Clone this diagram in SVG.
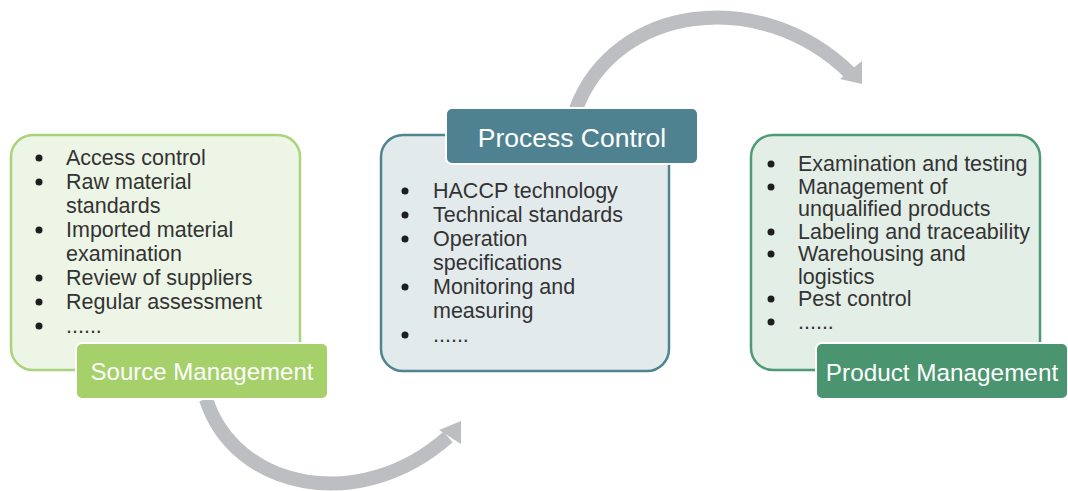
<svg xmlns="http://www.w3.org/2000/svg" width="1068" height="491" viewBox="0 0 1068 491">
<style>
.item{font-family:"Liberation Sans",Arial,sans-serif;font-size:21.5px;fill:#333333}
.lbl{font-family:"Liberation Sans",Arial,sans-serif;font-size:24px;fill:#ffffff;text-anchor:middle}
.dot{fill:#1e1e1e}
.arc{fill:none;stroke:#bdbec1;stroke-width:14}
.head{fill:#bdbec1}
</style>
<rect width="1068" height="491" fill="#ffffff"/>
<g id="connectors">
<path class="arc" d="M 206 399 C 235 490, 360 515, 448 437"/>
<polygon class="head" points="439,430 461,421 461,444"/>
<path class="arc" d="M 576 109 C 615 5, 760 -15, 850 73"/>
<polygon class="head" points="840,79 862,61 862,84"/>
</g>
<g id="source">
<rect x="11" y="135" width="289" height="235" rx="22" fill="#edf5e6" stroke="#a9d47b" stroke-width="2.5"/>
<g class="dot"><circle cx="39" cy="158" r="3.5"/><circle cx="39" cy="182" r="3.5"/><circle cx="39" cy="230" r="3.5"/><circle cx="39" cy="278" r="3.5"/><circle cx="39" cy="302" r="3.5"/><circle cx="39" cy="326" r="3.5"/></g>
<text class="item" x="66" y="165">Access control</text>
<text class="item" x="66" y="189">Raw material</text>
<text class="item" x="66" y="213">standards</text>
<text class="item" x="66" y="237">Imported material</text>
<text class="item" x="66" y="261">examination</text>
<text class="item" x="66" y="285">Review of suppliers</text>
<text class="item" x="66" y="309">Regular assessment</text>
<text class="item" x="66" y="333">......</text>
<rect x="76" y="343" width="252" height="56" rx="6" fill="#a5d06a" stroke="#ffffff" stroke-width="2"/>
<text class="lbl" x="202" y="380">Source Management</text>
</g>
<g id="process">
<rect x="381" y="135" width="288" height="236" rx="22" fill="#e3eaec" stroke="#4f8490" stroke-width="2.5"/>
<g class="dot"><circle cx="405" cy="191" r="3.5"/><circle cx="405" cy="215" r="3.5"/><circle cx="405" cy="239" r="3.5"/><circle cx="405" cy="287" r="3.5"/><circle cx="405" cy="335" r="3.5"/></g>
<text class="item" x="433" y="198">HACCP technology</text>
<text class="item" x="433" y="222">Technical standards</text>
<text class="item" x="433" y="246">Operation</text>
<text class="item" x="433" y="270">specifications</text>
<text class="item" x="433" y="294">Monitoring and</text>
<text class="item" x="433" y="318">measuring</text>
<text class="item" x="433" y="342">......</text>
<rect x="446" y="108" width="252" height="56" rx="6" fill="#4f8290" stroke="#ffffff" stroke-width="2"/>
<text class="lbl" x="572" y="147" style="font-size:26.5px">Process Control</text>
</g>
<g id="product">
<rect x="751" y="135" width="289" height="235" rx="22" fill="#e3eee7" stroke="#4e9a74" stroke-width="2.5"/>
<g class="dot"><circle cx="771" cy="164" r="3.5"/><circle cx="771" cy="187" r="3.5"/><circle cx="771" cy="232" r="3.5"/><circle cx="771" cy="254" r="3.5"/><circle cx="771" cy="299" r="3.5"/><circle cx="771" cy="322" r="3.5"/></g>
<text class="item" x="798" y="171">Examination and testing</text>
<text class="item" x="798" y="194">Management of</text>
<text class="item" x="798" y="216">unqualified products</text>
<text class="item" x="798" y="239">Labeling and traceability</text>
<text class="item" x="798" y="261">Warehousing and</text>
<text class="item" x="798" y="284">logistics</text>
<text class="item" x="798" y="306">Pest control</text>
<text class="item" x="798" y="329">......</text>
<rect x="816" y="343" width="252" height="56" rx="6" fill="#4a956f" stroke="#ffffff" stroke-width="2"/>
<text class="lbl" x="942" y="381" style="font-size:24.3px">Product Management</text>
</g>
</svg>
